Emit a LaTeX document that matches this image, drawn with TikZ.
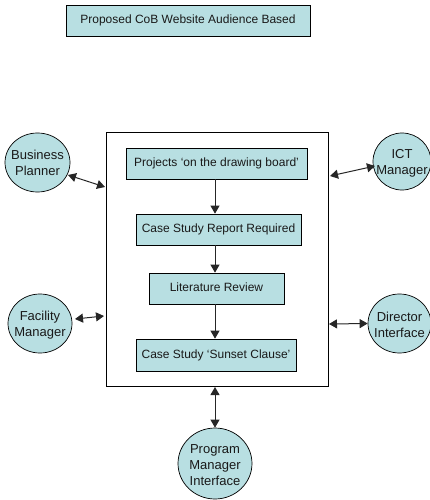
\documentclass[tikz,border=0pt]{standalone}
\usepackage{fontspec}
\setmainfont{Liberation Sans}
\usetikzlibrary{arrows.meta,shapes.geometric}
\definecolor{fillblue}{HTML}{B8DFE2}
\tikzset{
  x=1pt,y=-1pt,
  boxnode/.style={draw=black,line width=0.7pt,fill=fillblue,minimum height=31pt,inner sep=0pt,text height=9pt,text depth=2.5pt,font=\fontsize{12}{14}\selectfont,text=black!90},
  circnode/.style={draw=black,line width=0.7pt,fill=fillblue,ellipse,inner sep=0pt},
  circtext/.style={inner sep=0pt,align=center,font=\fontsize{13}{16}\selectfont,text=black!90},
  flow/.style={draw=black!85,line width=1pt,-{Triangle[length=8pt,width=9pt]}},
  link/.style={draw=black!85,line width=1pt,{Triangle[length=8pt,width=9pt]}-{Triangle[length=8pt,width=9pt]}}
}
\begin{document}
\begin{tikzpicture}
\useasboundingbox (0,0) rectangle (430,500);
\node[boxnode,minimum width=244pt] (title) at (188,20.5) {Proposed CoB Website Audience Based};
\node[draw=black,line width=0.8pt,minimum width=222pt,minimum height=254pt,inner sep=0pt] (frame) at (217,259) {};
\node[boxnode,minimum width=181pt] (b1) at (216.5,163.5) {Projects ‘on the drawing board’};
\node[boxnode,minimum width=165pt] (b2) at (218.5,229.5) {Case Study Report Required};
\node[boxnode,minimum width=135pt] (b3) at (216.5,288.5) {Literature Review};
\node[boxnode,minimum width=160pt,minimum height=32pt] (b4) at (216,355) {Case Study ‘Sunset Clause’};
\node[circnode,minimum width=65pt,minimum height=59pt] (biz) at (37.5,162.5) {};
\node[circtext] (biztext) at (biz.center) {Business\\Planner};
\node[circnode,minimum width=64pt,minimum height=59pt] (fac) at (40,323.5) {};
\node[circtext,yshift=-2pt] (factext) at (fac.center) {Facility\\Manager};
\node[circnode,minimum width=58pt,minimum height=57pt] (ict) at (402,161.5) {};
\node[circtext,yshift=-1.5pt] (icttext) at (ict.center) {ICT\\Manager};
\node[circnode,minimum width=63pt,minimum height=59pt] (dir) at (399.5,323.5) {};
\node[circtext,yshift=-1pt] (dirtext) at (dir.center) {Director\\Interface};
\node[circnode,minimum width=74pt,minimum height=71pt] (pm) at (215,463.5) {};
\node[circtext,yshift=-1.5pt] (pmtext) at (pm.center) {Program\\Manager\\Interface};
\coordinate (fbiz) at (105,187);
\coordinate (ffac) at (104,316);
\coordinate (fict) at (330,176);
\coordinate (fdir) at (329,324);
\coordinate (fpm) at (215,387);
\coordinate (sbiz) at (68,175);
\coordinate (sfac) at (75,319);
\coordinate (sict) at (375,166);
\draw[flow] (215,179) -- (b2.north -| 215,0);
\draw[flow] (215,245) -- (b3.north -| 215,0);
\draw[flow] (215,304) -- (b4.north -| 215,0);
\draw[link] (sbiz) -- (fbiz);
\draw[link] (sfac) -- (ffac);
\draw[link] (fict) -- (sict);
\draw[link] (fdir) -- (dir.west);
\draw[link] (fpm) -- (pm.north);
\end{tikzpicture}
\end{document}
